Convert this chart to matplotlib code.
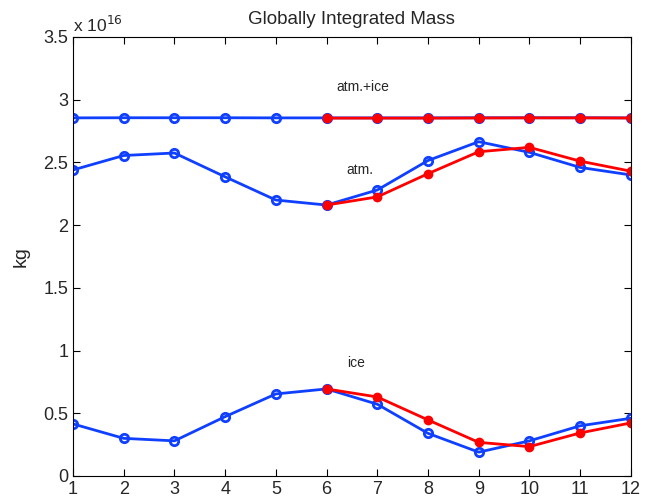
import numpy as np
import matplotlib
matplotlib.use('Agg')
import matplotlib.pyplot as plt

plt.rcParams['font.family'] = ['Liberation Sans', 'DejaVu Sans']
plt.rcParams['text.color'] = '#262626'
plt.rcParams['axes.labelcolor'] = '#262626'
plt.rcParams['xtick.labelcolor'] = '#262626'
plt.rcParams['ytick.labelcolor'] = '#262626'

# months
months = np.arange(1, 13)
months_red = np.arange(6, 13)

# values in units of 1e16 kg
total_blue = [2.855, 2.856, 2.856, 2.856, 2.855, 2.855, 2.855, 2.855, 2.856, 2.856, 2.856, 2.855]
total_red = [2.853, 2.853, 2.853, 2.854, 2.855, 2.855, 2.854]
atm_blue = [2.44, 2.555, 2.575, 2.385, 2.20, 2.16, 2.28, 2.515, 2.665, 2.58, 2.46, 2.40]
atm_red = [2.16, 2.225, 2.41, 2.585, 2.62, 2.51, 2.43]
ice_blue = [0.415, 0.30, 0.28, 0.473, 0.654, 0.694, 0.572, 0.34, 0.19, 0.28, 0.40, 0.46]
ice_red = [0.694, 0.63, 0.447, 0.268, 0.234, 0.343, 0.423]

blue = '#1040ff'
red = '#ff0000'

fig = plt.figure(figsize=(6.49, 4.97), dpi=100)
ax = fig.add_axes([0.1125, 0.0423, 0.8595, 0.8833])

for yb in (total_blue, atm_blue, ice_blue):
    ax.plot(months, yb, color=blue, lw=2, marker='o', ms=6, mfc='none', mew=2)
for yr in (total_red, atm_red, ice_red):
    ax.plot(months_red, yr, color=red, lw=2, marker='.', ms=12)

ax.text(6.2, 3.1, 'atm.+ice', fontsize=10, va='center')
ax.text(6.4, 2.44, 'atm.', fontsize=10, va='center')
ax.text(6.4, 0.90, 'ice', fontsize=10, va='center')

ax.set_xlim(1, 12)
ax.set_ylim(0, 3.5)
ax.set_xticks(months)
ax.set_yticks(np.arange(0, 3.51, 0.5))
ax.set_yticklabels(['0', '0.5', '1', '1.5', '2', '2.5', '3', '3.5'])
ax.tick_params(direction='in', top=True, right=True, labelsize=13, length=5)
ax.set_ylabel('kg', fontsize=14, labelpad=10)
ax.set_title('Globally Integrated Mass', fontsize=13.5, pad=9)
ax.text(0.0, 1.005, r'x 10$^{16}$', transform=ax.transAxes, fontsize=12.5, va='bottom', ha='left')

fig.savefig('out.png', dpi=100)
